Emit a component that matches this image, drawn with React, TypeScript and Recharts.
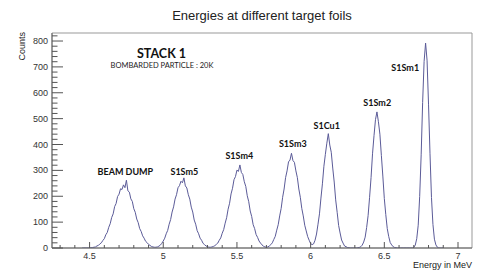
import React from 'react';
import { LineChart, Line, XAxis, YAxis, ReferenceArea, ReferenceDot } from 'recharts';

// histogram binning (MeV)
const binLow = 4.45;
const binWidth = 0.01;

// counts per bin, from 4.45 MeV upwards
const counts = [
  0, 0, 0, 0, 0,
  0, 1, 2, 3, 4, 8, 10, 16, 20, 29,
  36, 51, 60, 80, 94, 118, 132, 160, 172, 199,
  208, 229, 226, 244, 233, 262, 221, 216, 190, 180,
  152, 138, 112, 98, 75, 64, 47, 38, 26, 21,
  14, 10, 6, 4, 3, 3, 4, 7, 11, 18,
  27, 38, 55, 68, 92, 110, 139, 159, 189, 206,
  233, 241, 258, 252, 271, 240, 232, 206, 189, 158,
  139, 108, 92, 67, 55, 38, 30, 18, 13, 8,
  5, 3, 3, 4, 6, 9, 14, 19, 30, 39,
  57, 71, 96, 117, 150, 173, 209, 231, 264, 276,
  301, 296, 321, 292, 284, 256, 238, 202, 179, 143,
  122, 90, 75, 52, 41, 27, 19, 12, 7, 4,
  3, 4, 8, 13, 20, 33, 45, 69, 90, 124,
  153, 196, 228, 272, 298, 333, 340, 366, 338, 331,
  298, 272, 228, 196, 153, 124, 88, 66, 44, 30,
  17, 13, 16, 30, 54, 92, 132, 193, 248, 316,
  362, 405, 442, 398, 370, 309, 255, 186, 138, 87,
  58, 31, 19, 8, 5, 2, 1, 0, 0, 0,
  0, 0, 1, 2, 5, 11, 23, 42, 79, 125,
  196, 272, 364, 434, 496, 526, 488, 440, 358, 278,
  191, 129, 75, 44, 21, 12, 5, 2, 1, 0,
  0, 0, 0, 0, 0, 0, 0, 0, 0, 0,
  3, 11, 36, 88, 199, 360, 562, 721, 792, 726,
  556, 364, 195, 91, 34, 12, 3, 0, 0, 0,
  0,
];

const xTicks = [
  4.3, 4.4, 4.5, 4.6, 4.7, 4.8, 4.9, 5.0, 5.1, 5.2, 5.3, 5.4, 5.5, 5.6,
  5.7, 5.8, 5.9, 6.0, 6.1, 6.2, 6.3, 6.4, 6.5, 6.6, 6.7, 6.8, 6.9, 7.0,
];
const yTicks = [
  0, 20, 40, 60, 80, 100, 120, 140, 160, 180, 200, 220, 240, 260, 280, 300,
  320, 340, 360, 380, 400, 420, 440, 460, 480, 500, 520, 540, 560, 580, 600,
  620, 640, 660, 680, 700, 720, 740, 760, 780, 800, 820,
];

// peak names and where their labels sit (energy, counts)
const peakNames = ['BEAM DUMP', 'S1Sm5', 'S1Sm4', 'S1Sm3', 'S1Cu1', 'S1Sm2', 'S1Sm1'];
const peakLabelE = [4.743, 5.143, 5.516, 5.879, 6.109, 6.452, 6.642];
const peakLabelN = [282, 282, 344, 390, 460, 549, 684];

const X_DOMAIN: [number, number] = [4.245, 7.095];
const Y_DOMAIN: [number, number] = [0, 831];

const rows = counts.map((n, i) => ({ energy: +(binLow + i * binWidth).toFixed(2), n }));

const axisFont = '"Liberation Sans", Arial, sans-serif';
const labelFont = 'Lato, "Open Sans", sans-serif';

const XTick = (props: any) => {
  const { x, y, payload } = props;
  const v = payload.value;
  const major = Math.abs(v * 2 - Math.round(v * 2)) < 1e-6;
  return (
    <g>
      <line x1={x} x2={x} y1={y} y2={y - (major ? 6 : 3)} stroke="#555" />
      {major && (
        <text x={x} y={y + 11} textAnchor="middle" fontSize={9} fontFamily={axisFont} fill="#333">
          {String(+v.toFixed(1))}
        </text>
      )}
    </g>
  );
};

const YTick = (props: any) => {
  const { x, y, payload } = props;
  const major = payload.value % 100 === 0;
  return (
    <g>
      <line x1={x} x2={x + (major ? 11 : 5.5)} y1={y} y2={y} stroke="#555" />
      {major && (
        <text x={x - 4} y={y + 3} textAnchor="end" fontSize={9} fontFamily={axisFont} fill="#333">
          {payload.value}
        </text>
      )}
    </g>
  );
};

const PeakLabel = (text: string) => (props: any) => (
  <text x={props.cx} y={props.cy} textAnchor="middle" fontSize={9} fontWeight="bold" fontFamily={labelFont} fill="#111">
    {text}
  </text>
);

export default function App() {
  return (
    <div style={{ position: 'absolute', left: 0, top: 0, width: 479, height: 278, background: '#fff' }}>
      <LineChart width={479} height={278} data={rows} margin={{ top: 33, right: 7, bottom: 0, left: 0 }}>
        <ReferenceArea x1={X_DOMAIN[0]} x2={X_DOMAIN[1]} y1={Y_DOMAIN[0]} y2={Y_DOMAIN[1]} fill="none" stroke="#999" />
        <XAxis
          type="number"
          dataKey="energy"
          domain={X_DOMAIN}
          allowDataOverflow
          ticks={xTicks}
          interval={0}
          tickSize={0}
          tickMargin={0}
          tickLine={false}
          tick={<XTick />}
          axisLine={{ stroke: '#666' }}
          height={30}
        />
        <YAxis
          type="number"
          domain={Y_DOMAIN}
          allowDataOverflow
          ticks={yTicks}
          interval={0}
          tickSize={0}
          tickMargin={0}
          tickLine={false}
          tick={<YTick />}
          axisLine={{ stroke: '#666' }}
          width={52}
        />
        <Line
          type="linear"
          dataKey="n"
          stroke="#5b5b98"
          strokeWidth={1}
          dot={false}
          isAnimationActive={false}
        />
        {peakNames.map((name, i) => (
          <ReferenceDot key={name} x={peakLabelE[i]} y={peakLabelN[i]} r={0} shape={PeakLabel(name)} />
        ))}
      </LineChart>
      <svg width={479} height={278} style={{ position: 'absolute', left: 0, top: 0, pointerEvents: 'none' }}>
        <text x={262} y={20} textAnchor="middle" fontSize={13} fontFamily={axisFont} fill="#222">
          Energies at different target foils
        </text>
        <text x={472} y={268} textAnchor="end" fontSize={9} fontFamily={axisFont} fill="#222">
          Energy in MeV
        </text>
        <text transform="translate(25,32) rotate(-90)" textAnchor="end" fontSize={9} fontFamily={axisFont} fill="#222">
          Counts
        </text>
        <text x={161.5} y={57.5} textAnchor="middle" fontSize={12.5} fontWeight="bold" fontFamily={labelFont} fill="#111">
          STACK 1
        </text>
        <text x={162} y={67.5} textAnchor="middle" fontSize={7.5} fontFamily={labelFont} fill="#222">
          BOMBARDED PARTICLE : 20K
        </text>
      </svg>
    </div>
  );
}
